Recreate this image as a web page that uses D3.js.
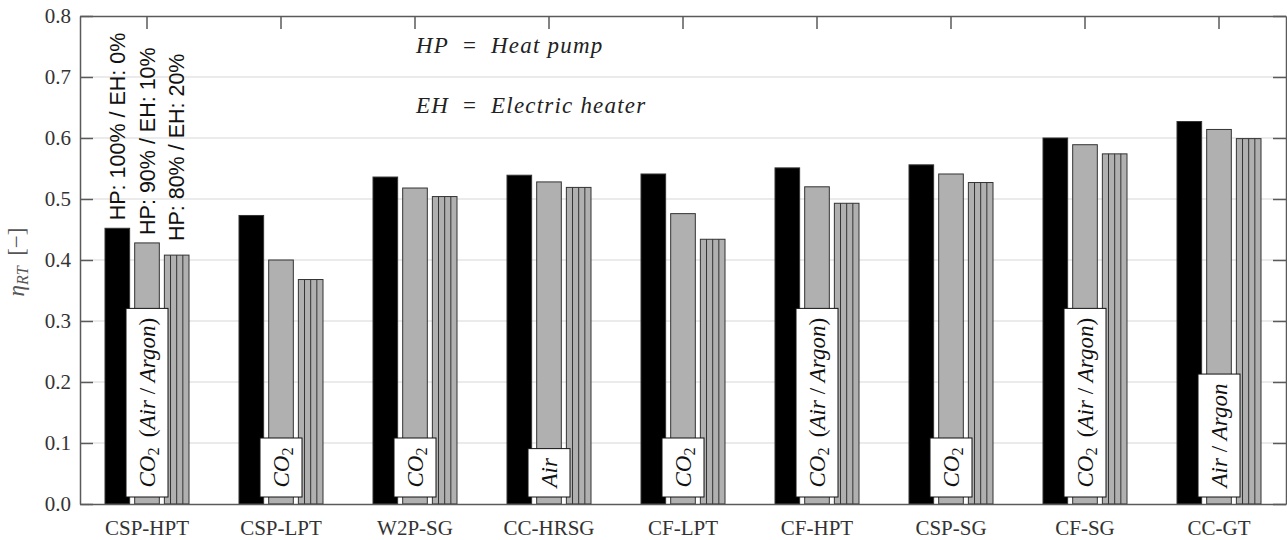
<!DOCTYPE html>
<html>
<head>
<meta charset="utf-8">
<script src="https://cdn.jsdelivr.net/npm/d3@7"></script>
<style>
  body { margin: 0; background: #fff; }
  text { white-space: pre; }
</style>
</head>
<body>
<div id="chart"></div>
<script>
// values
const categories = ["CSP-HPT", "CSP-LPT", "W2P-SG", "CC-HRSG", "CF-LPT", "CF-HPT", "CSP-SG", "CF-SG", "CC-GT"]
const seriesNames = ["HP: 100% / EH: 0%", "HP: 90% / EH: 10%", "HP: 80% / EH: 20%"]
const hp100 = [0.452, 0.473, 0.536, 0.539, 0.541, 0.551, 0.556, 0.600, 0.627]
const hp90  = [0.428, 0.400, 0.518, 0.528, 0.476, 0.520, 0.541, 0.589, 0.614]
const hp80  = [0.408, 0.368, 0.504, 0.519, 0.434, 0.493, 0.527, 0.574, 0.599]
const fluids = ["CO2 (Air/Argon)", "CO2", "CO2", "Air", "CO2", "CO2 (Air/Argon)", "CO2", "CO2 (Air/Argon)", "Air/Argon"]
const yTicks = [0, 0.1, 0.2, 0.3, 0.4, 0.5, 0.6, 0.7, 0.8]

const series = [hp100, hp90, hp80]

const W = 1287, H = 540
const MARGIN = { LEFT: 80, RIGHT: 1, TOP: 16, BOTTOM: 36 }
const SERIF = "'Liberation Serif', 'Times New Roman', serif"
const SANS = "'Liberation Sans', Arial, sans-serif"
const AXIS_COLOR = "#5a5a5a"

const svg = d3.select("#chart").append("svg")
  .attr("width", W)
  .attr("height", H)

const x = d3.scaleBand()
  .domain(categories)
  .range([MARGIN.LEFT, W - MARGIN.RIGHT])

const xs = d3.scaleBand()
  .domain(d3.range(series.length))
  .range([-42, 42])
  .paddingInner(0.17)

const y = d3.scaleLinear()
  .domain([0, 0.8])
  .range([H - MARGIN.BOTTOM, MARGIN.TOP])

const cx = c => x(c) + x.bandwidth() / 2

// grid
svg.append("g")
  .selectAll("line")
  .data(yTicks.slice(1, -1))
  .join("line")
  .attr("x1", MARGIN.LEFT)
  .attr("x2", W - MARGIN.RIGHT)
  .attr("y1", d => y(d))
  .attr("y2", d => y(d))
  .attr("stroke", "#e4e4e4")
  .attr("stroke-width", 1.5)

// bars
const rows = []
categories.forEach((c, i) => series.forEach((vals, j) => rows.push({ c, j, v: vals[i] })))

const fills = ["#000", "#b0b0b0", "#b0b0b0"]

const bars = svg.append("g")
  .selectAll("g")
  .data(rows)
  .join("g")
  .attr("transform", d => `translate(${cx(d.c) + xs(d.j)}, 0)`)

bars.append("rect")
  .attr("x", 0)
  .attr("y", d => y(d.v))
  .attr("width", xs.bandwidth())
  .attr("height", d => y(0) - y(d.v))
  .attr("fill", d => fills[d.j])
  .attr("stroke", "#333")
  .attr("stroke-width", 1)

// vertical hatching on the 80 % bars
bars.filter(d => d.j === 2)
  .selectAll("line")
  .data(d => [0.25, 0.5, 0.75].map(f => ({ f, v: d.v })))
  .join("line")
  .attr("x1", d => d.f * xs.bandwidth())
  .attr("x2", d => d.f * xs.bandwidth())
  .attr("y1", d => y(d.v))
  .attr("y2", y(0))
  .attr("stroke", "#333")
  .attr("stroke-width", 1)

// series labels above the first group
const gaps = [8, 8, 14]
svg.append("g")
  .selectAll("text")
  .data(seriesNames)
  .join("text")
  .attr("transform", (d, j) => `translate(${cx(categories[0]) + xs(j) + xs.bandwidth() / 2}, ${y(series[j][0]) - gaps[j]}) rotate(-90)`)
  .attr("dy", "0.36em")
  .attr("font-family", SANS)
  .attr("font-size", 21.5)
  .attr("fill", "#111")
  .text(d => d)

// working fluid boxes
function mathText(sel, label) {
  const parts = []
  label.split(/(CO2|Air|Argon)/).filter(s => s.length).forEach(s => {
    if (s === "CO2") {
      parts.push({ t: "CO", it: true })
      parts.push({ t: "2", sub: true })
    } else if (s === "Air" || s === "Argon") {
      parts.push({ t: s, it: true })
    } else {
      parts.push({ t: s.replace(/\//g, " / ").replace(" (", " \u2009("), it: false })
    }
  })
  parts.forEach((p, k) => {
    const ts = sel.append("tspan")
      .attr("font-style", p.it ? "italic" : "normal")
      .text(p.t)
    if (p.sub) ts.attr("font-size", "0.7em").attr("dy", "0.25em")
    else if (k > 0 && parts[k - 1].sub) ts.attr("dy", "-0.175em")
  })
}

const boxBottom = y(0) - 7
const boxes = svg.append("g")
  .selectAll("g")
  .data(categories.map((c, i) => ({ c, label: fluids[i] })))
  .join("g")

boxes.each(function(d) {
  const g = d3.select(this)
  const rect = g.append("rect")
  const t = g.append("text")
    .attr("font-family", SERIF)
    .attr("font-size", 23)
    .attr("fill", "#111")
  mathText(t, d.label)
  const len = t.node().getComputedTextLength()
  const hgt = len + 19
  rect.attr("x", cx(d.c) - 21)
    .attr("y", boxBottom - hgt)
    .attr("width", 42)
    .attr("height", hgt)
    .attr("fill", "#fff")
    .attr("stroke", "#111")
    .attr("stroke-width", 1)
  t.attr("transform", `translate(${cx(d.c) + 7.5}, ${boxBottom - 9.5}) rotate(-90)`)
})

// axes, ticks point inward
const leftAx = d3.axisLeft(y).tickValues(yTicks).tickSize(-13).tickSizeOuter(0).tickPadding(9).tickFormat(d3.format(".1f"))
const rightAx = d3.axisRight(y).tickValues(yTicks).tickSize(-13).tickSizeOuter(0).tickFormat("")
const topAx = d3.axisTop(x).tickSize(-13).tickSizeOuter(0).tickFormat("")
const bottomAx = d3.axisBottom(x).tickSize(0).tickSizeOuter(0).tickPadding(16)

function styleAxis(g) {
  g.select(".domain").attr("stroke", AXIS_COLOR).attr("stroke-width", 1.5)
  g.selectAll(".tick line").attr("stroke", AXIS_COLOR).attr("stroke-width", 1.5)
  g.selectAll(".tick text")
    .attr("font-family", SERIF)
    .attr("font-size", 21)
    .attr("fill", "#333")
}

svg.append("g").attr("transform", `translate(${MARGIN.LEFT}, 0)`).call(leftAx).call(styleAxis)
svg.append("g").attr("transform", `translate(${W - MARGIN.RIGHT}, 0)`).call(rightAx).call(styleAxis)
svg.append("g").attr("transform", `translate(0, ${MARGIN.TOP})`).call(topAx).call(styleAxis)
svg.append("g").attr("transform", `translate(0, ${H - MARGIN.BOTTOM})`).call(bottomAx).call(styleAxis)

// y label
const yl = svg.append("text")
  .attr("transform", `translate(24, 262) rotate(-90)`)
  .attr("text-anchor", "middle")
  .attr("font-family", SERIF)
  .attr("font-size", 23)
  .attr("fill", "#555")
yl.append("tspan").attr("font-style", "italic").text("η")
yl.append("tspan").attr("font-style", "italic").attr("font-size", "0.7em").attr("dy", "0.25em").text("RT")
yl.append("tspan").attr("dy", "-0.175em").text(" \u2009[−]")

// legend notes
const notes = [["HP", "Heat pump"], ["EH", "Electric heater"]]
svg.append("g")
  .selectAll("text")
  .data(notes)
  .join("text")
  .attr("x", 416)
  .attr("y", (d, i) => 53 + i * 60)
  .attr("font-family", SERIF)
  .attr("font-size", 23)
  .attr("letter-spacing", 1.2)
  .attr("fill", "#222")
  .each(function(d) {
    const t = d3.select(this)
    t.append("tspan").attr("font-style", "italic").text(d[0])
    t.append("tspan").text("  =  ")
    t.append("tspan").attr("font-style", "italic").text(d[1])
  })
</script>
</body>
</html>
